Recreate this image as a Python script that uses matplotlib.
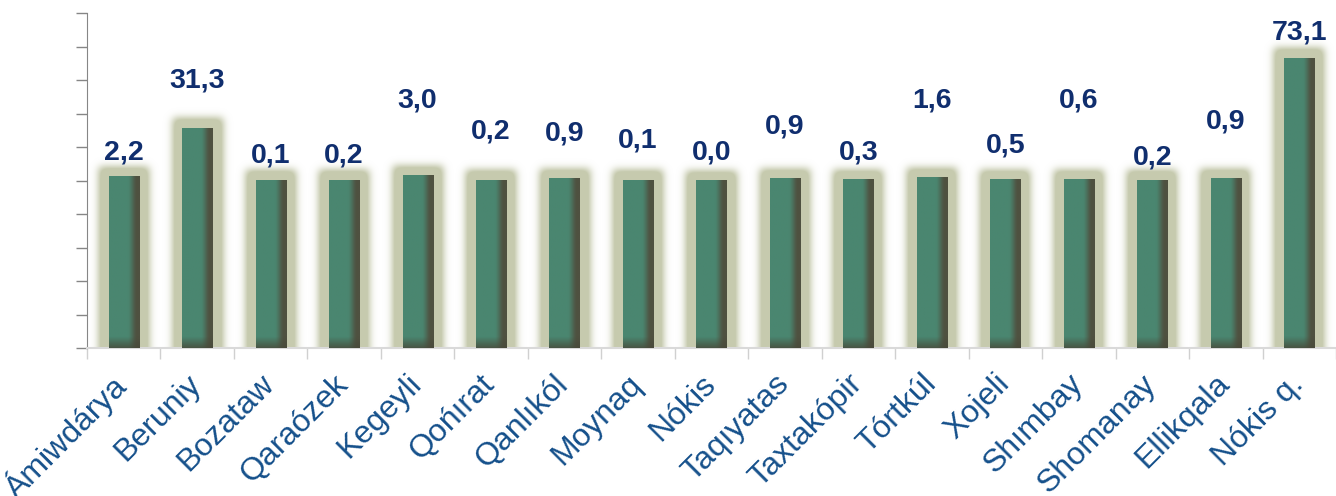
"""Bar chart of district shares with glowing green bars."""

import matplotlib

matplotlib.use("Agg")

import matplotlib.pyplot as plt  # noqa: E402
import numpy as np  # noqa: E402
from matplotlib.colors import to_rgb  # noqa: E402
from matplotlib.transforms import ScaledTranslation  # noqa: E402

districts = [
    "Ámiwdárya", "Beruniy", "Bozataw", "Qaraózek", "Kegeyli", "Qońırat",
    "Qanlıkól", "Moynaq", "Nókis", "Taqıyatas", "Taxtakópir", "Tórtkúl",
    "Xojeli", "Shımbay", "Shomanay", "Ellikqala", "Nókis q.",
]
shares = [2.2, 31.3, 0.1, 0.2, 3.0, 0.2, 0.9, 0.1, 0.0, 0.9, 0.3, 1.6, 0.5, 0.6, 0.2, 0.9, 73.1]
# where the value labels sit (they were moved by hand in the original)
label_heights = [17, 60, 15, 15, 47.5, 29.5, 28, 24, 16.5, 32.5, 16.5, 48, 21, 48, 13.5, 35.5, 88.5]
y_ticks = list(range(-100, 101, 20))

plt.rcParams["font.family"] = ["Liberation Sans", "DejaVu Sans"]

W_PX, H_PX = 1336, 496
AX_LEFT, AX_TOP, AX_BOTTOM = 87, 13, 348
Y_MIN, Y_MAX = -100, 100
BAR_W = 0.41

GREEN = np.array(to_rgb("#4a8670"))
DARK = np.array(to_rgb("#4f5140"))
BOTTOM_DARK = np.array(to_rgb("#484a3a"))
GLOW = "#c6cbae"
LABEL_NAVY = "#102e6e"
TICK_BLUE = "#15508b"


def gaussian_blur(img, sigma):
    radius = int(3 * sigma)
    xs = np.arange(-radius, radius + 1)
    kernel = np.exp(-xs**2 / (2 * sigma**2))
    kernel /= kernel.sum()
    out = np.apply_along_axis(lambda r: np.convolve(r, kernel, mode="same"), 1, img)
    out = np.apply_along_axis(lambda c: np.convolve(c, kernel, mode="same"), 0, out)
    return out


def main():
    fig = plt.figure(figsize=(W_PX / 100, H_PX / 100), dpi=100)
    ax = fig.add_axes([
        AX_LEFT / W_PX,
        1 - AX_BOTTOM / H_PX,
        1 - AX_LEFT / W_PX,
        (AX_BOTTOM - AX_TOP) / H_PX,
    ])
    n = len(shares)
    x = np.arange(n)
    x_min, x_max = -0.5, n - 0.5

    ax_w = W_PX - AX_LEFT
    ax_h = AX_BOTTOM - AX_TOP
    px_per_x = ax_w / (x_max - x_min)
    px_per_y = ax_h / (Y_MAX - Y_MIN)

    # glow behind the bars, built on a pixel grid of the axes area
    pad = 30
    gx = np.linspace(x_min, x_max, ax_w)
    gy = np.linspace(Y_MAX, Y_MIN, ax_h)
    mask = np.zeros((ax_h + 2 * pad, ax_w + 2 * pad))
    grow = 10
    for i, v in enumerate(shares):
        cols = np.abs(gx - i) <= BAR_W / 2 + grow / px_per_x
        rows = gy <= v + grow / px_per_y
        sub = np.zeros((ax_h, ax_w))
        sub[np.ix_(rows, cols)] = 1.0
        mask[pad:pad + ax_h, pad:pad + ax_w] = np.maximum(mask[pad:pad + ax_h, pad:pad + ax_w], sub)
    # let the glow run past the axis floor
    mask[pad + ax_h:, :] = mask[pad + ax_h - 1, :]
    blurred = gaussian_blur(mask, 4.0)[pad:pad + ax_h, pad:pad + ax_w]
    glow = np.clip(blurred * 1.5, 0, 1)
    rgba = np.zeros((ax_h, ax_w, 4))
    rgba[..., :3] = to_rgb(GLOW)
    rgba[..., 3] = glow
    ax.imshow(rgba, extent=(x_min, x_max, Y_MIN, Y_MAX), aspect="auto",
              interpolation="bilinear", zorder=1)

    bars = ax.bar(x, np.array(shares) - Y_MIN, bottom=Y_MIN, width=BAR_W,
                  color="#4a8670", zorder=2)

    # shading on each bar: darker right side and darker foot
    for bar, v in zip(bars, shares):
        x0 = bar.get_x()
        ny = 200
        nx = 40
        t = np.linspace(0, 1, nx)
        side = np.clip((t - 0.6) / 0.32, 0, 1)
        side = side * side * (3 - 2 * side)
        yy = np.linspace(v, Y_MIN, ny)
        foot = np.clip(1 - (yy - Y_MIN) * px_per_y / 11, 0, 1) * 0.8
        img = GREEN[None, None, :] * (1 - side[None, :, None]) + DARK[None, None, :] * side[None, :, None]
        img = img * (1 - foot[:, None, None]) + BOTTOM_DARK[None, None, :] * foot[:, None, None]
        img = np.broadcast_to(img, (ny, nx, 3))
        ax.imshow(img, extent=(x0, x0 + BAR_W, Y_MIN, v), aspect="auto",
                  interpolation="bilinear", zorder=3)

    for i, (v, h) in enumerate(zip(shares, label_heights)):
        ax.text(i, h, f"{v:.1f}".replace(".", ","), ha="center", va="center",
                fontsize=20.5, fontweight="bold", color=LABEL_NAVY, zorder=4)

    ax.set_xlim(x_min, x_max)
    ax.set_ylim(Y_MIN, Y_MAX)
    ax.set_yticks(y_ticks)
    ax.set_yticklabels([])
    ax.tick_params(axis="y", length=8, width=1, color="#868686", direction="out")

    ax.set_xticks(x)
    ax.set_xticklabels(districts, rotation=45, ha="right", va="top",
                       fontsize=23, color=TICK_BLUE)
    ax.tick_params(axis="x", which="major", length=0, pad=15)
    ax.set_xticks(np.arange(n + 1) - 0.5, minor=True)
    ax.tick_params(axis="x", which="minor", length=8, width=1, color="#d0d0d0")
    shift = ScaledTranslation(10 / 100, 0, fig.dpi_scale_trans)
    for lbl in ax.get_xticklabels():
        lbl.set_transform(lbl.get_transform() + shift)

    for side_name in ("top", "right"):
        ax.spines[side_name].set_visible(False)
    ax.spines["left"].set_color("#868686")
    ax.spines["bottom"].set_color("#d9d9d9")
    ax.spines["bottom"].set_linewidth(1.5)

    fig.savefig("out.png", dpi=100)
    plt.close(fig)


if __name__ == "__main__":
    main()
